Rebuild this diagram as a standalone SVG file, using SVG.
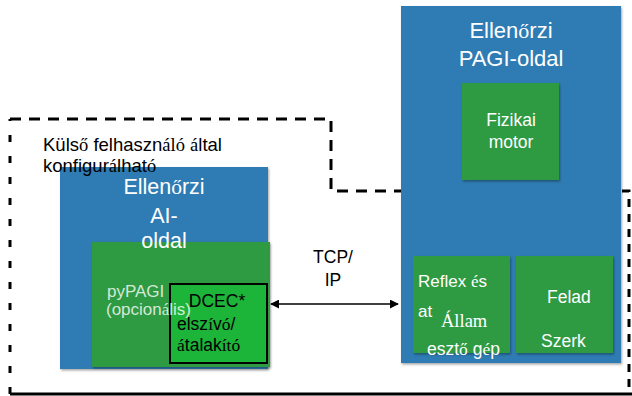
<svg xmlns="http://www.w3.org/2000/svg" width="632" height="396" viewBox="0 0 632 396">
  <defs>
    <filter id="shadow" x="-5%" y="-5%" width="115%" height="115%">
      <feDropShadow dx="1" dy="1.5" stdDeviation="1" flood-color="#000" flood-opacity="0.35"/>
    </filter>
    <marker id="arrow" viewBox="0 0 10 10" refX="9" refY="5" markerWidth="9" markerHeight="9" markerUnits="userSpaceOnUse" orient="auto-start-reverse">
      <path d="M0,0 L10,5 L0,10 Z" fill="#000"/>
    </marker>
  </defs>
  <style>
    .blue { fill: #2e7bb3; filter: url(#shadow); }
    .green { fill: #2f9a42; filter: url(#shadow); }
    text { font-family: "Liberation Sans", Arial, sans-serif; }
    .s { font-family: "Liberation Serif", "Times New Roman", serif; }
    .w { fill: #ffffff; }
    .k { fill: #000000; }
    .mid { text-anchor: middle; }
  </style>
  <rect width="632" height="396" fill="#ffffff"/>

  <!-- configurable boundary -->
  <g id="boundary" fill="none" stroke="#000" stroke-width="3">
    <path d="M10,394 L10,119" stroke-dasharray="7 14"/>
    <path d="M10,119 L331,119 L331,191 L622,191" stroke-dasharray="11 8"/>
    <path d="M622,191 L629,191 L629,394" stroke-dasharray="8 7"/>
    <line x1="10" y1="394" x2="632" y2="394"/>
  </g>

  <!-- PAGI side controller -->
  <g id="pagi-side">
    <rect class="blue" x="401" y="6" width="220" height="357"/>
    <text class="w mid" x="511" y="38" font-size="22">Ellen<tspan class="s">ő</tspan>rzi</text>
    <text class="w mid" x="511" y="66" font-size="22">PAGI-oldal</text>
  </g>

  <g id="physics-engine">
    <rect class="green" x="462" y="83" width="97" height="97"/>
    <text class="w mid" x="511" y="126" font-size="17.5">Fizikai</text>
    <text class="w mid" x="511" y="148" font-size="17.5">motor</text>
  </g>

  <g id="reflex-state-machine">
    <rect class="green" x="413" y="256" width="97" height="97"/>
    <text class="w" x="418" y="287" font-size="17">Reflex <tspan class="s">é</tspan>s</text>
    <text class="w" x="418" y="317" font-size="17">at</text>
    <text class="w s" x="441" y="327" font-size="18.5">Állam</text>
    <text class="w" x="427" y="355" font-size="17.5">eszt<tspan class="s">ő</tspan> g<tspan class="s">é</tspan>p</text>
  </g>

  <g id="task-editor">
    <rect class="green" x="516" y="256" width="97" height="97"/>
    <text class="w" x="547" y="303" font-size="17.5">Felad</text>
    <text class="w" x="541" y="347" font-size="17.5">Szerk</text>
  </g>

  <!-- AI side controller -->
  <g id="ai-side">
    <rect class="blue" x="60" y="167" width="208" height="202"/>
  </g>

  <g id="pypagi">
    <rect class="green" x="92" y="242" width="178" height="125"/>
  </g>

  <g id="ai-side-label">
    <text class="w mid" x="164" y="194" font-size="21.5">Ellen<tspan class="s">ő</tspan>rzi</text>
    <text class="w mid" x="164" y="223" font-size="21.5">AI-</text>
    <text class="w mid" x="164" y="248" font-size="21.5">oldal</text>
  </g>

  <g id="dcec">
    <rect x="170" y="284" width="97" height="79" fill="#1db43a" stroke="#000" stroke-width="2"/>
    <text class="k mid" x="217" y="307" font-size="17.5">DCEC*</text>
    <text class="k" x="177" y="330" font-size="17.5">elsz<tspan class="s">í</tspan>v<tspan class="s">ó</tspan>/</text>
    <text class="k" x="177" y="351" font-size="17.5"><tspan class="s">á</tspan>talak<tspan class="s">ító</tspan></text>
  </g>

  <g id="pypagi-label" fill-opacity="0.8">
    <text class="w" x="107" y="297" font-size="17">pyPAGI</text>
    <text class="w" x="106" y="315" font-size="17">(opcion<tspan class="s">á</tspan>lis)</text>
  </g>

  <g id="boundary-label">
    <text class="k" x="43" y="151" font-size="18.5">Küls<tspan class="s">ő</tspan> felhaszn<tspan class="s">áló</tspan> <tspan class="s">á</tspan>ltal</text>
    <text class="k" x="43" y="172" font-size="18.5">konfigur<tspan class="s">á</tspan>lhat<tspan class="s">ó</tspan></text>
  </g>

  <!-- connectors -->
  <g id="connectors">
    <line x1="271" y1="304" x2="398" y2="304" stroke="#000" stroke-width="1.6" marker-start="url(#arrow)" marker-end="url(#arrow)"/>
    <text class="k mid" x="333" y="263" font-size="17.5">TCP/</text>
    <text class="k mid" x="333" y="286" font-size="17.5">IP</text>
  </g>
</svg>
